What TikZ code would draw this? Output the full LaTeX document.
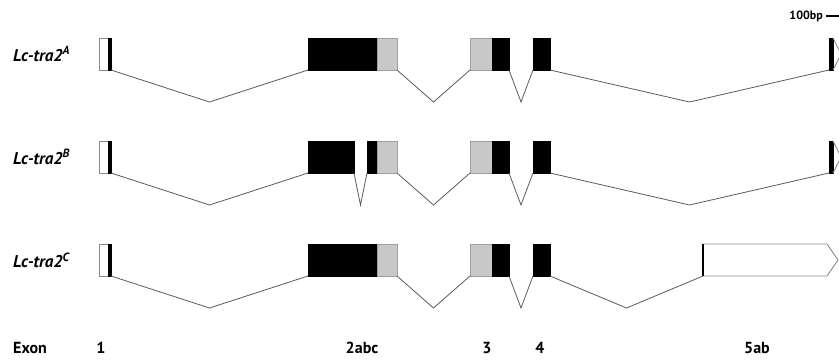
\documentclass[tikz,border=0pt]{standalone}
\usepackage{fontspec}
\setmainfont{PT Sans}
\usetikzlibrary{calc}

\definecolor{utrgray}{HTML}{C8C8C8}
\definecolor{edgegray}{HTML}{8A8A8A}
\definecolor{introngray}{HTML}{5A5A5A}

\tikzset{
  seg/.style={rectangle, inner sep=0pt, outer sep=0pt, minimum height=32bp},
  cds/.style={seg, fill=black, draw=black, line width=0.6bp},
  utr/.style={seg, fill=utrgray, draw=utrgray!80!black, line width=0.6bp},
  nc/.style={seg, fill=white, draw=edgegray, line width=0.9bp},
  intr/.style={draw=introngray, line width=0.8bp, line join=miter},
  outl/.style={draw=edgegray, line width=0.9bp, line join=miter},
  isoform/.style={font=\fontsize{17bp}{19bp}\selectfont\bfseries\itshape, anchor=west, inner sep=0pt},
  exonlab/.style={font=\fontsize{16bp}{18bp}\selectfont\bfseries, inner sep=0pt},
}

% one exon block from x=#3 to x=#4 with its top at y=#5
\newcommand{\exonseg}[5]{%
  \node[#1, minimum width={#4bp-#3bp}, anchor=north west] (#2) at (#3,#5) {};}
% an intron drawn as a V between two exon blocks
\newcommand{\intronV}[2]{%
  \draw[intr] (#1.south east) -- ($(#1.south east)!.5!(#2.south west)+(0,32)$) -- (#2.south west);}

\begin{document}
\begin{tikzpicture}[x=1bp,y=-1bp]
\useasboundingbox (0,0) rectangle (839,361);

% scale bar
\node[font=\fontsize{12bp}{13bp}\selectfont\bfseries, anchor=east, inner sep=0pt] (sclab) at (823,16) {100bp};
\coordinate (sclA) at (826,16);
\coordinate (sclB) at (839,16);
\draw[line width=1.2bp] (sclA) -- (sclB);

% ---- isoform A ----
\node[isoform] (labA) at (13,54) {Lc-tra2\textsuperscript{A}};
\exonseg{nc}{e1A}{99}{111}{38}
\exonseg{cds}{e1Ab}{108.5}{111}{38}
\exonseg{cds}{e2Ak}{308}{377}{38}
\exonseg{utr}{e2Ag}{377}{397}{38}
\exonseg{utr}{e3Ag}{470}{492}{38}
\exonseg{cds}{e3Ak}{492}{509}{38}
\exonseg{cds}{e4A}{533}{550}{38}
\exonseg{cds}{e5A}{829}{833}{38}
\draw[outl] (e5A.north east) -- ($(e5A.east)+(8,0)$) -- (e5A.south east);
\intronV{e1A}{e2Ak}
\intronV{e2Ag}{e3Ag}
\intronV{e3Ak}{e4A}
\intronV{e4A}{e5A}

% ---- isoform B ----
\node[isoform] (labB) at (13,157) {Lc-tra2\textsuperscript{B}};
\exonseg{nc}{e1B}{99}{111}{141}
\exonseg{cds}{e1Bb}{108.5}{111}{141}
\exonseg{cds}{e2Bk}{308}{354}{141}
\exonseg{cds}{e2Bc}{367}{377}{141}
\exonseg{utr}{e2Bg}{377}{397}{141}
\exonseg{utr}{e3Bg}{470}{492}{141}
\exonseg{cds}{e3Bk}{492}{509}{141}
\exonseg{cds}{e4B}{533}{550}{141}
\exonseg{cds}{e5B}{829}{833}{141}
\draw[outl] (e5B.north east) -- ($(e5B.east)+(8,0)$) -- (e5B.south east);
\intronV{e1B}{e2Bk}
\intronV{e2Bk}{e2Bc}
\intronV{e2Bg}{e3Bg}
\intronV{e3Bk}{e4B}
\intronV{e4B}{e5B}

% ---- isoform C ----
\node[isoform] (labC) at (13,260) {Lc-tra2\textsuperscript{C}};
\exonseg{nc}{e1C}{99}{111}{244}
\exonseg{cds}{e1Cb}{108.5}{111}{244}
\exonseg{cds}{e2Ck}{308}{377}{244}
\exonseg{utr}{e2Cg}{377}{397}{244}
\exonseg{utr}{e3Cg}{470}{492}{244}
\exonseg{cds}{e3Ck}{492}{509}{244}
\exonseg{cds}{e4C}{533}{550}{244}
\exonseg{seg}{e5C}{703}{827}{244}
\draw[outl] (e5C.north west) -- (e5C.north east) -- ($(e5C.east)+(11,0)$) -- (e5C.south east) -- (e5C.south west);
\draw[line width=2bp] (e5C.north west) -- (e5C.south west);
\intronV{e1C}{e2Ck}
\intronV{e2Cg}{e3Cg}
\intronV{e3Ck}{e4C}
\intronV{e4C}{e5C}

% ---- exon numbering ----
\node[exonlab, anchor=west] (exw) at (13,348) {Exon};
\node[exonlab] (ex1) at (101,348) {1};
\node[exonlab] (ex2) at (362,348) {2abc};
\node[exonlab] (ex3) at (487,348) {3};
\node[exonlab] (ex4) at (540,348) {4};
\node[exonlab] (ex5) at (757,348) {5ab};
\end{tikzpicture}
\end{document}
